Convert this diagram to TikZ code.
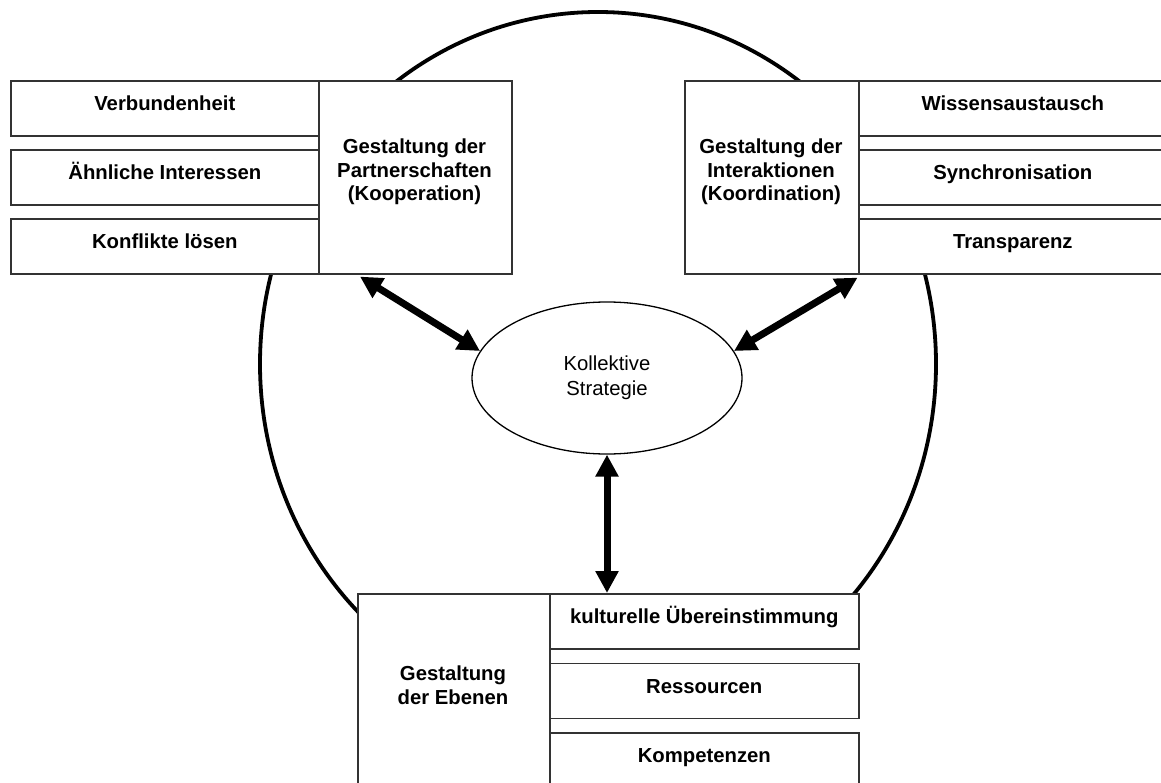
\documentclass[tikz,border=0pt]{standalone}
\usepackage{fontspec}
\setmainfont{Liberation Sans}
\usetikzlibrary{shapes.geometric,arrows.meta,calc}
\begin{document}
\begin{tikzpicture}[x=1pt,y=-1pt,
  boxline/.style={draw=black!80, line width=1.6pt, fill=white},
  backing/.style={fill=white, draw=none},
  subbox/.style={boxline, anchor=north west, inner sep=0pt,
    minimum width=308pt, minimum height=55pt,
    font=\fontsize{20.3}{23.5}\selectfont\bfseries,
    text height=14pt, text depth=9pt},
  titlebox/.style={boxline, anchor=north west, inner sep=0pt},
  titletext/.style={align=center, inner sep=0pt,
    font=\fontsize{20.3}{23.5}\selectfont\bfseries},
  link/.style={line width=7pt,
    {Triangle[length=22pt,width=22pt]}-{Triangle[length=22pt,width=22pt]}}
]
\useasboundingbox (0,0) rectangle (1161,783);
\begin{scope}
\clip (0,0) rectangle (1161,783);

% outer ring behind everything
\draw[line width=3.8pt] (598,364) ellipse [x radius=338, y radius=352];

% white ground under each group of boxes
\fill[backing] (10,80) rectangle (318,273);
\fill[backing] (858,80) rectangle (1166,273);
\fill[backing] (549,593) rectangle (858,790);

% partnerships (cooperation)
\node[subbox] (p1) at (10,80) {Verbundenheit};
\node[subbox] (p2) at (10,149) {Ähnliche Interessen};
\node[subbox] (p3) at (10,218) {Konflikte lösen};
\node[titlebox, minimum width=193pt, minimum height=193pt] (pbox) at (318,80) {};
\node[titletext] (ptext) at (414.5,172) {Gestaltung der\\Partnerschaften\\(Kooperation)};

% interactions (coordination)
\node[titlebox, minimum width=174pt, minimum height=193pt] (ibox) at (684,80) {};
\node[subbox] (i1) at (858,80) {Wissensaustausch};
\node[subbox] (i2) at (858,149) {Synchronisation};
\node[subbox] (i3) at (858,218) {Transparenz};
\node[titletext] (itext) at (771,172) {Gestaltung der\\Interaktionen\\(Koordination)};

% levels
\node[titlebox, minimum width=192pt, minimum height=200pt] (ebox) at (357,593) {};
\node[subbox, minimum width=309pt] (e1) at (549,593) {kulturelle Übereinstimmung};
\node[subbox, minimum width=309pt] (e2) at (549,662.5) {Ressourcen};
\node[subbox, minimum width=309pt] (e3) at (549,732) {Kompetenzen};
\node[titletext] (etext) at (453,685) {Gestaltung\\der Ebenen};

% central strategy
\node[draw, line width=1.3pt, ellipse, fill=white, minimum width=270pt,
  minimum height=152pt, inner sep=0pt, align=center,
  font=\fontsize{20.3}{25}\selectfont] (ks) at (607,378) {Kollektive\\Strategie};

% two-way links
\draw[link] ($(pbox.south west)+(42,2)$) -- (ks.168);
\draw[link] ($(ibox.south east)+(-2,3)$) -- (ks.12);
\draw[link] (ks.south) -- (ks.south |- e1.north);
\end{scope}
\end{tikzpicture}
\end{document}
